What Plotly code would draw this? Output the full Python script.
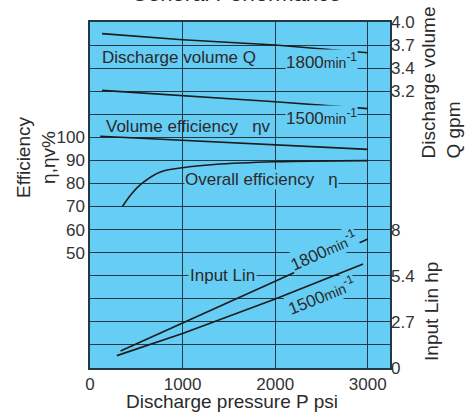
import plotly.graph_objects as go

# ---------------- data ----------------
pressure_q = [130, 1000, 2000, 3000]               # psi
q_1800 = [3.83, 3.76, 3.70, 3.61]                   # gpm
q_1500 = [3.18, 3.12, 3.05, 2.97]                   # gpm

pressure_ev = [110, 1000, 2000, 3000]
vol_eff = [100.5, 98.8, 96.8, 94.8]                 # %

pressure_oe = [350, 450, 560, 760, 1000, 1340, 2000, 3000]
overall_eff = [70.0, 75.5, 80.0, 85.0, 86.8, 88.2, 89.4, 89.9]   # %

pressure_p1800 = [330, 1000, 2000, 3000]
power_1800 = [0.99, 2.60, 5.04, 7.50]               # hp
pressure_p1500 = [290, 1000, 2000, 2950]
power_1500 = [0.72, 2.01, 4.01, 6.05]               # hp

x_ticks = [0, 1000, 2000, 3000]
eff_ticks = list(range(0, 151, 10))
eff_ticktext = [str(v) if 50 <= v <= 100 else "" for v in eff_ticks]

GPM_PER_LMIN = 0.264172
HP_PER_KW = 1.34102
q_tick_lmin = [15, 14, 13, 12]
q_ticktext = ["4.0", "3.7", "3.4", "3.2"]
p_tick_kw = [0, 2, 4, 6]
p_ticktext = ["0", "2.7", "5.4", "8"]

# ---------------- style ----------------
BG = "#66cdf5"
GRID = "#223a46"
LINE = "#1c1c1c"
TXT = "#2a2a2a"
FONT = "Liberation Sans"

fig = go.Figure()
ln = dict(color=LINE, width=1.6)
fig.add_trace(go.Scatter(x=pressure_q, y=q_1800, mode="lines", line=ln, yaxis="y2", showlegend=False))
fig.add_trace(go.Scatter(x=pressure_q, y=q_1500, mode="lines", line=ln, yaxis="y2", showlegend=False))
fig.add_trace(go.Scatter(x=pressure_ev, y=vol_eff, mode="lines", line=ln, yaxis="y", showlegend=False))
fig.add_trace(go.Scatter(x=pressure_oe, y=overall_eff, mode="lines", line=dict(color=LINE, width=1.6, shape="spline"), yaxis="y", showlegend=False))
fig.add_trace(go.Scatter(x=pressure_p1800, y=power_1800, mode="lines", line=ln, yaxis="y3", showlegend=False))
fig.add_trace(go.Scatter(x=pressure_p1500, y=power_1500, mode="lines", line=ln, yaxis="y3", showlegend=False))

tickfont = dict(family=FONT, size=17, color="#333333")
fig.update_layout(
    width=474, height=412,
    margin=dict(l=90, r=84, t=22, b=44),
    paper_bgcolor="white", plot_bgcolor=BG,
    font=dict(family=FONT, color=TXT),
    xaxis=dict(range=[0, 3240], tickvals=x_ticks, ticktext=[str(v) for v in x_ticks],
               showgrid=True, gridcolor=GRID, gridwidth=1, zeroline=False,
               showline=True, linecolor=GRID, linewidth=1.5, mirror=True,
               tickfont=tickfont, ticks="", automargin=False),
    yaxis=dict(range=[0, 150], tickvals=eff_ticks, ticktext=eff_ticktext,
               showgrid=True, gridcolor=GRID, gridwidth=1, zeroline=False,
               showline=True, linecolor=GRID, linewidth=1.5, mirror=True,
               tickfont=tickfont, ticks="", automargin=False),
    yaxis2=dict(range=[0, 15 * GPM_PER_LMIN], overlaying="y", side="right", anchor="x",
                tickvals=[v * GPM_PER_LMIN for v in q_tick_lmin], ticktext=q_ticktext,
                showgrid=False, zeroline=False, tickfont=tickfont, ticks="", automargin=False),
    yaxis3=dict(range=[0, 15 * HP_PER_KW], overlaying="y", side="right", anchor="x",
                tickvals=[v * HP_PER_KW for v in p_tick_kw], ticktext=p_ticktext,
                showgrid=False, zeroline=False, tickfont=tickfont, ticks="", automargin=False),
)

lab = dict(family=FONT, size=17, color=TXT)
def A(text, x, y, **kw):
    d = dict(text=text, x=x, y=y, xref="x", yref="y", showarrow=False, font=lab)
    d.update(kw)
    fig.add_annotation(**d)

sm = "<span style='font-size:14px'>min</span><sup>-1</sup>"
A("Discharge volume Q", 113, 134.7, xanchor="left")
A("1800" + sm, 2505, 133.2, bgcolor=BG, borderpad=0)
A("1500" + sm, 2505, 108.9, bgcolor=BG, borderpad=0)
A("Volume efficiency   ηv", 147, 104.6, xanchor="left")
A("Overall efficiency   η", 1010, 81.8, xanchor="left", bgcolor=BG, borderpad=0)
A("Input Lin", 1435, 39.9, bgcolor=BG, borderpad=1)
A("1800" + sm, 2522, 51.1, textangle=-24, bgcolor=BG, borderpad=0)
A("1500" + sm, 2505, 31.6, textangle=-22, bgcolor=BG, borderpad=0)

tfont = dict(family=FONT, size=19, color=TXT)
def P(text, x, y, **kw):
    d = dict(text=text, x=x, y=y, xref="paper", yref="paper", showarrow=False,
             xanchor="center", yanchor="middle", font=tfont)
    d.update(kw)
    fig.add_annotation(**d)

P("General Performance", 0.487, 1.04, yanchor="bottom", font=dict(family=FONT, size=22, color=TXT))
P("Discharge pressure P psi", 0.473, -0.097)
P("Efficiency<br>η,ηv%", -0.18, 0.607, textangle=-90)
P("Discharge volume<br>Q gpm", 1.17, 0.825, textangle=-90, align="left")
P("Input Lin hp", 1.14, 0.165, textangle=-90)

fig.write_html("out.html", config={"displayModeBar": False},
               post_script="document.body.style.margin='0';document.body.style.overflow='hidden';")
